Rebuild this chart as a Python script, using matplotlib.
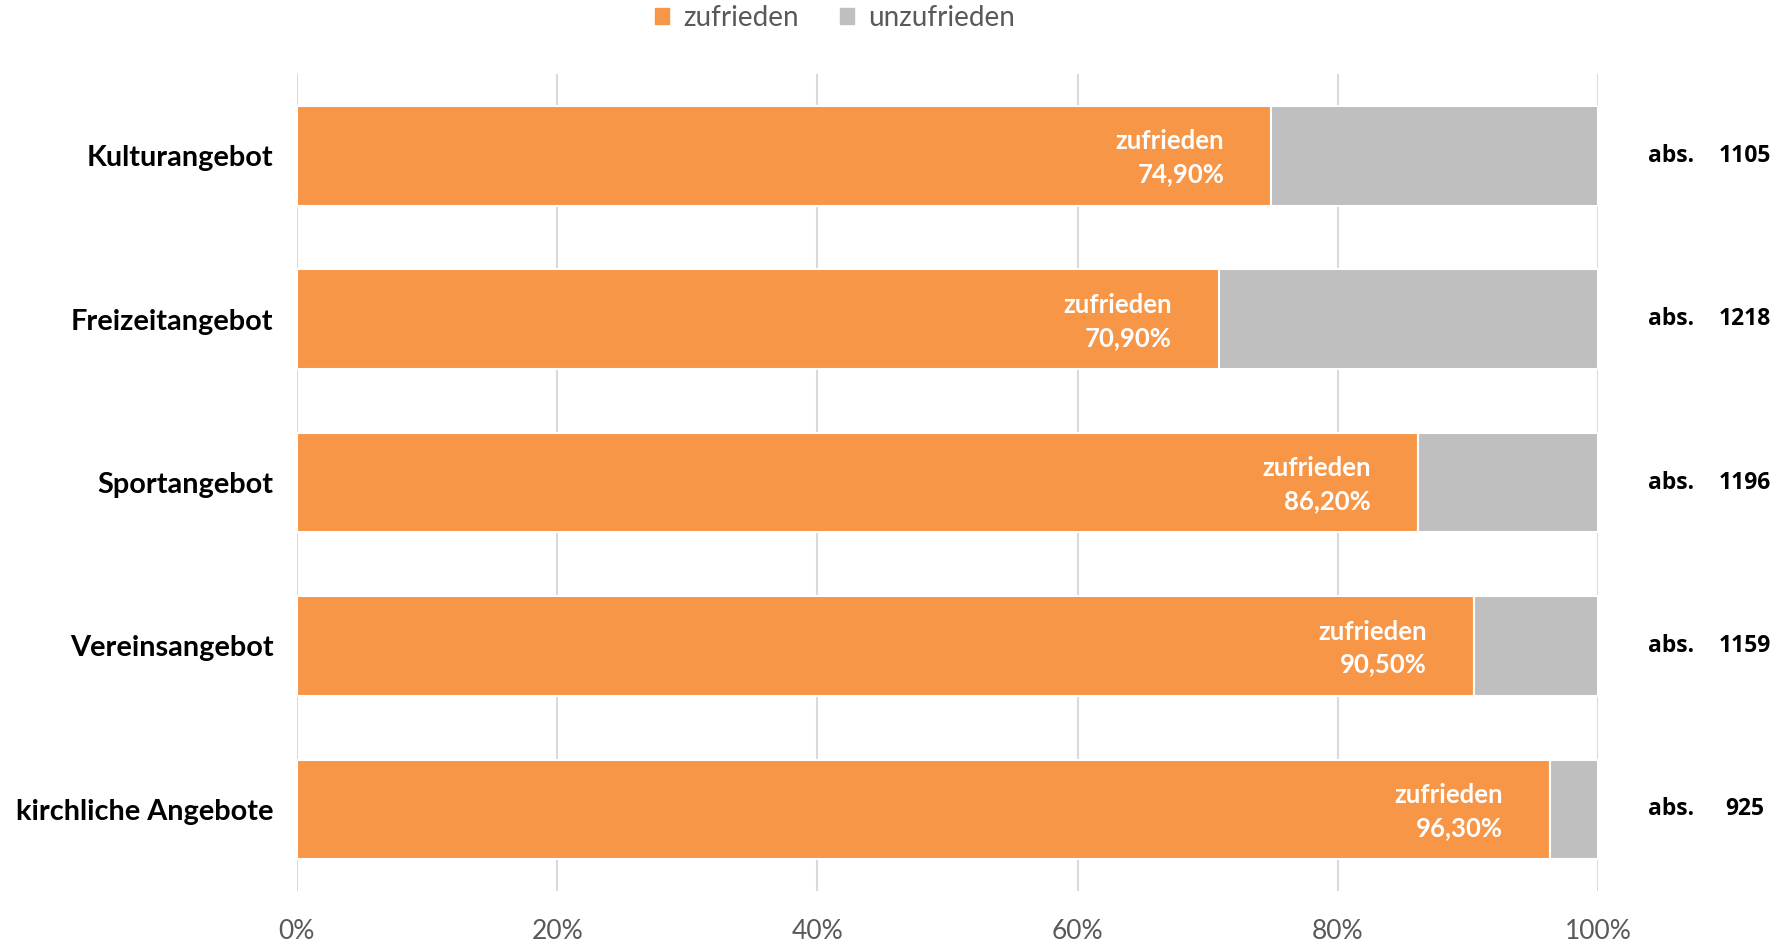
import matplotlib
matplotlib.use("Agg")
import matplotlib.pyplot as plt
from matplotlib.patches import Patch

# Data
categories = ["Kulturangebot", "Freizeitangebot", "Sportangebot",
              "Vereinsangebot", "kirchliche Angebote"]
zufrieden = [74.9, 70.9, 86.2, 90.5, 96.3]
unzufrieden = [100 - v for v in zufrieden]
abs_counts = [1105, 1218, 1196, 1159, 925]
xticks = [0, 20, 40, 60, 80, 100]

ORANGE = "#F79646"
GRAY = "#BFBFBF"
GRID = "#D9D9D9"
TXT_GRAY = "#595959"

plt.rcParams['font.family'] = ['Lato', 'DejaVu Sans']

fig = plt.figure(figsize=(17.92, 9.42), dpi=100)
ax = fig.add_axes([0.1657, 0.0541, 0.726, 0.8673])

ypos = list(range(len(categories)))
ax.barh(ypos, zufrieden, height=0.61, color=ORANGE, edgecolor="white",
        linewidth=1.5, zorder=3)
ax.barh(ypos, unzufrieden, left=zufrieden, height=0.61, color=GRAY,
        edgecolor="white", linewidth=1.5, zorder=3)

# labels inside bars
for y, v in zip(ypos, zufrieden):
    ax.annotate("zufrieden\n" + f"{v:.2f}".replace(".", ",") + "%",
                xy=(v, y), xytext=(-34, -1.5), textcoords="offset points",
                ha="right", va="center", color="white", fontsize=18.5,
                fontweight="bold", linespacing=1.45, zorder=4)

# abs. counts on the right
for y, n in zip(ypos, abs_counts):
    ax.text(105.6, y, "abs.", ha="center", va="center", fontsize=16.5,
            fontweight="bold", family=["Open Sans", "DejaVu Sans"],
            clip_on=False)
    ax.text(111.3, y, str(n), ha="center", va="center", fontsize=16.5,
            fontweight="bold", family=["Open Sans", "DejaVu Sans"],
            clip_on=False)

ax.set_xlim(0, 100)
ax.set_ylim(len(categories) - 0.5, -0.5)
ax.set_xticks(xticks)
ax.set_xticklabels([f"{t}%" for t in xticks], fontsize=19, color=TXT_GRAY)
ax.set_yticks(ypos)
ax.set_yticklabels(categories, fontsize=20.8, fontweight="bold", color="black")
ax.tick_params(axis="y", length=0, pad=17)
ax.tick_params(axis="x", length=0, pad=20)

ax.xaxis.grid(True, color=GRID, linewidth=1.5, zorder=0)
ax.set_axisbelow(True)
for s in ax.spines.values():
    s.set_visible(False)

handles = [Patch(color=ORANGE, label="zufrieden"),
           Patch(color=GRAY, label="unzufrieden")]
leg = fig.legend(handles=handles, loc="center", bbox_to_anchor=(0.466, 0.981),
                 ncol=2, frameon=False, fontsize=20, handlelength=0.5,
                 handleheight=0.5, handletextpad=0.5, columnspacing=1.5)
for t in leg.get_texts():
    t.set_color(TXT_GRAY)

fig.savefig("out.png", dpi=100)
